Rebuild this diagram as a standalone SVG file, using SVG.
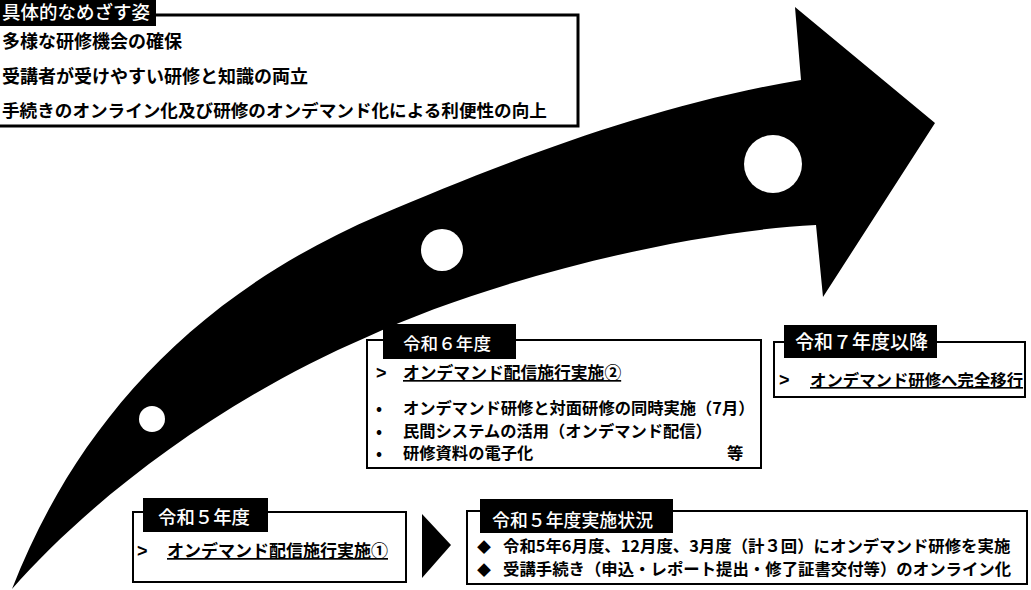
<svg xmlns="http://www.w3.org/2000/svg" width="1031" height="590" viewBox="0 0 1031 590">
<style>
.bg{fill:#fff}
.box{fill:#fff;stroke:#000;stroke-width:2}
.box3{fill:#fff;stroke:#000;stroke-width:3}
.lbl{fill:#000}
.lt{font-family:"Noto Sans CJK JP","Noto Sans CJK SC",sans-serif;fill:#fff;font-weight:500}
.bt{font-family:"Noto Sans CJK JP","Noto Sans CJK SC",sans-serif;fill:#000;font-weight:700}
.ch{font-family:"Liberation Sans",sans-serif;fill:#000;font-weight:700;font-size:18px}
.ul{text-decoration:underline}
.ink{fill:#000}
.hole{fill:#fff}
</style>
<rect class="bg" x="0" y="0" width="1031" height="590"/>

<g id="arrow">
<path class="ink" d="M12,589 C70,440 180,300 380,215 C500,164 650,105 801,80 L795,7 L935,123 L823,297 L816,225 C680,232 485,282 367,337 C220,400 90,500 12,589 Z"/>
<circle class="hole" cx="152" cy="419" r="13"/>
<circle class="hole" cx="442" cy="250" r="21"/>
<circle class="hole" cx="773" cy="164" r="29"/>
</g>

<g id="goal">
<rect class="box3" x="-10" y="15" width="588" height="111"/>
<rect class="lbl" x="-2" y="-2" width="158" height="28"/>
<text class="lt" x="2" y="19" font-size="18.5" font-weight="400">具体的なめざす姿</text>
<text class="bt" x="2" y="48" font-size="18">多様な研修機会の確保</text>
<text class="bt" x="2" y="83" font-size="18">受講者が受けやすい研修と知識の両立</text>
<text class="bt" x="2" y="117" font-size="17.6">手続きのオンライン化及び研修のオンデマンド化による利便性の向上</text>
</g>

<g id="r6">
<rect class="box" x="367" y="340" width="394" height="128"/>
<rect class="lbl" x="383" y="324" width="133" height="35"/>
<text class="lt" x="403" y="350" font-size="17.6">令和６年度</text>
<text class="ch" x="376" y="379">&gt;</text>
<text class="bt ul" x="403" y="379" font-size="16.8">オンデマンド配信施行実施②</text>
<text class="bt" x="376" y="414" font-size="16">•</text>
<text class="bt" x="403" y="414" font-size="16.3">オンデマンド研修と対面研修の同時実施（7月）</text>
<text class="bt" x="376" y="437" font-size="16">•</text>
<text class="bt" x="403" y="437" font-size="16.3">民間システムの活用（オンデマンド配信）</text>
<text class="bt" x="376" y="459" font-size="16">•</text>
<text class="bt" x="403" y="459" font-size="16.3">研修資料の電子化</text>
<text class="bt" x="727" y="459" font-size="16.3">等</text>
</g>

<g id="r7">
<rect class="box" x="774" y="342" width="251" height="55"/>
<rect class="lbl" x="784" y="325" width="153" height="33"/>
<text class="lt" x="795" y="349" font-size="19">令和７年度以降</text>
<text class="ch" x="779" y="386">&gt;</text>
<text class="bt ul" x="810" y="386" font-size="16.4">オンデマンド研修へ完全移行</text>
</g>

<g id="r5">
<rect class="box" x="133" y="512" width="273" height="70"/>
<rect class="lbl" x="143" y="498" width="125" height="34"/>
<text class="lt" x="158" y="524" font-size="18.4">令和５年度</text>
<text class="ch" x="137" y="557">&gt;</text>
<text class="bt ul" x="167" y="557" font-size="17">オンデマンド配信施行実施①</text>
</g>

<g id="r5status">
<rect class="box" x="467" y="511" width="560" height="73"/>
<rect class="lbl" x="480" y="499" width="193" height="34"/>
<text class="lt" x="492" y="527" font-size="17.9">令和５年度実施状況</text>
<text class="bt" x="477" y="552" font-size="14">◆</text>
<text class="bt" x="503" y="552" font-size="16.4">令和5年6月度、12月度、3月度（計３回）にオンデマンド研修を実施</text>
<text class="bt" x="477" y="575" font-size="14">◆</text>
<text class="bt" x="503" y="575" font-size="16.4">受講手続き（申込・レポート提出・修了証書交付等）のオンライン化</text>
</g>

<g id="connectors">
<polygon class="ink" points="422,514 451,545 422,578"/>
</g>
</svg>
